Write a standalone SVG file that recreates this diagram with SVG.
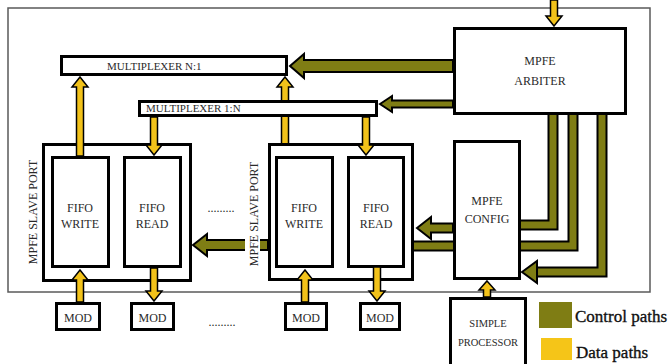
<svg xmlns="http://www.w3.org/2000/svg" width="668" height="364" viewBox="0 0 668 364">
<style>
.box{fill:#fff;stroke:#000;stroke-width:3}
.t{font-family:"Liberation Serif","Times New Roman",serif;font-size:12px;fill:#2a2a2a;text-anchor:middle}
.ts{font-family:"Liberation Serif","Times New Roman",serif;font-size:11px;fill:#2a2a2a}
.data{fill:#f2c21a;stroke:#000;stroke-width:1.5;stroke-linejoin:miter}
.ctl{fill:#7f7d14;stroke:#000;stroke-width:2;stroke-linejoin:miter}
.pb{fill:none;stroke:#000;stroke-width:11;stroke-linejoin:miter}
.po{fill:none;stroke:#7f7d14;stroke-width:7;stroke-linejoin:miter}
.leg{font-family:"Liberation Serif","Times New Roman",serif;font-size:17px;fill:#111;stroke:#111;stroke-width:0.35}
</style>
<rect x="8" y="8" width="642" height="284" fill="none" stroke="#5a5a5a" stroke-width="1.5"/>
<g id="connectors">
  <path class="pb" d="M553,112 V225 H516"/>
  <path class="po" d="M553,112 V225 H516"/>
  <path class="pb" d="M573,112 V246 H414"/>
  <path class="po" d="M573,112 V246 H414"/>
  <path class="pb" d="M602,112 V272 H536"/>
  <path class="po" d="M602,112 V272 H536"/>
  <polygon class="ctl" points="522,272 537,261 537,283"/>
  <polygon class="data" points="285,77 293,87 288.5,87 288.5,156 281.5,156 281.5,87 277,87"/>
</g>
<g id="mux-n1"><rect class="box" x="61.5" y="56.5" width="225" height="18"/><text class="ts" x="107" y="70">MULTIPLEXER N:1</text></g>
<g id="mux-1n"><rect class="box" x="139.5" y="101.5" width="237" height="14"/><text class="ts" x="146" y="112">MULTIPLEXER 1:N</text></g>
<g id="arbiter"><rect class="box" x="454.5" y="28.5" width="171" height="85"/><text class="t" x="540" y="65">MPFE</text><text class="t" x="540" y="85">ARBITER</text></g>
<g id="slave-port-1"><rect class="box" x="43.5" y="144.5" width="147" height="136"/></g>
<g id="fifo-write-1"><rect class="box" x="52.5" y="157.5" width="56" height="109"/><text class="t" x="80" y="212">FIFO</text><text class="t" x="80" y="228">WRITE</text></g>
<g id="fifo-read-1"><rect class="box" x="124.5" y="157.5" width="56" height="109"/><text class="t" x="152" y="212">FIFO</text><text class="t" x="152" y="228">READ</text></g>
<g id="slave-port-2"><rect class="box" x="269.5" y="144.5" width="143" height="135"/></g>
<g id="fifo-write-2"><rect class="box" x="276.5" y="157.5" width="56" height="109"/><text class="t" x="304" y="212">FIFO</text><text class="t" x="304" y="228">WRITE</text></g>
<g id="fifo-read-2"><rect class="box" x="348.5" y="157.5" width="55" height="109"/><text class="t" x="376" y="212">FIFO</text><text class="t" x="376" y="228">READ</text></g>
<g id="config"><rect class="box" x="454.5" y="141.5" width="65" height="137"/><text class="t" x="487" y="205">MPFE</text><text class="t" x="487" y="223">CONFIG</text></g>
<g id="mod-1"><rect class="box" x="56.5" y="303.5" width="43" height="26"/><text class="t" x="78" y="322">MOD</text></g>
<g id="mod-2"><rect class="box" x="131.5" y="303.5" width="42" height="26"/><text class="t" x="152.5" y="322">MOD</text></g>
<g id="mod-3"><rect class="box" x="285.5" y="303.5" width="41" height="26"/><text class="t" x="306" y="322">MOD</text></g>
<g id="mod-4"><rect class="box" x="360.5" y="303.5" width="39" height="26"/><text class="t" x="380" y="322">MOD</text></g>
<g id="processor"><rect class="box" x="450.5" y="298.5" width="75" height="72"/><text class="t" x="488" y="327" style="font-size:10.5px">SIMPLE</text><text class="t" x="488" y="346" style="font-size:10.5px">PROCESSOR</text></g>
<g id="connectors-2">
  <polygon class="ctl" points="290,66 304,54 304,60 453,60 453,72 304,72 304,78"/>
  <polygon class="ctl" points="380,104 392,96 392,100.5 453,100.5 453,107.5 392,107.5 392,112"/>
  <polygon class="ctl" points="417,228 431,217 431,223.5 453,223.5 453,232.5 431,232.5 431,239"/>
  <polygon class="ctl" points="193,245 207,234 207,240 268,240 268,250 207,250 207,256"/>
  <polygon class="data" points="80,77 88,87 83.5,87 83.5,156 76.5,156 76.5,87 72,87"/>
  <polygon class="data" points="154,155 162,145 157.5,145 157.5,117 150.5,117 150.5,145 146,145"/>
  <polygon class="data" points="366,155 374,145 369.5,145 369.5,117 362.5,117 362.5,145 358,145"/>
  <polygon class="data" points="80,270 88,280 83.5,280 83.5,302 76.5,302 76.5,280 72,280"/>
  <polygon class="data" points="154,301 162,291 157.5,291 157.5,268 150.5,268 150.5,291 146,291"/>
  <polygon class="data" points="305,270 313,280 308.5,280 308.5,302 301.5,302 301.5,280 297,280"/>
  <polygon class="data" points="377,301 385,291 380.5,291 380.5,267 373.5,267 373.5,291 369,291"/>
  <polygon class="data" points="487,281 495,290 490.5,290 490.5,297 483.5,297 483.5,290 479,290"/>
  <polygon class="data" points="554,26 562,16 557.5,16 557.5,0 550.5,0 550.5,16 546,16"/>
</g>
<rect x="245" y="236" width="15" height="18" fill="#fff"/>
<text class="t" transform="translate(37,212) rotate(-90)">MPFE SLAVE PORT</text>
<text class="t" transform="translate(258,214) rotate(-90)">MPFE SLAVE PORT</text>
<text class="t" x="221" y="212">.........</text>
<text class="t" x="222" y="326">.........</text>
<g id="legend">
  <rect x="539" y="302" width="33" height="26" fill="#7f7d14"/>
  <rect x="541" y="338" width="31" height="22" fill="#f5c518"/>
  <text class="leg" x="575" y="322">Control paths</text>
  <text class="leg" x="576" y="358">Data paths</text>
</g>
</svg>
